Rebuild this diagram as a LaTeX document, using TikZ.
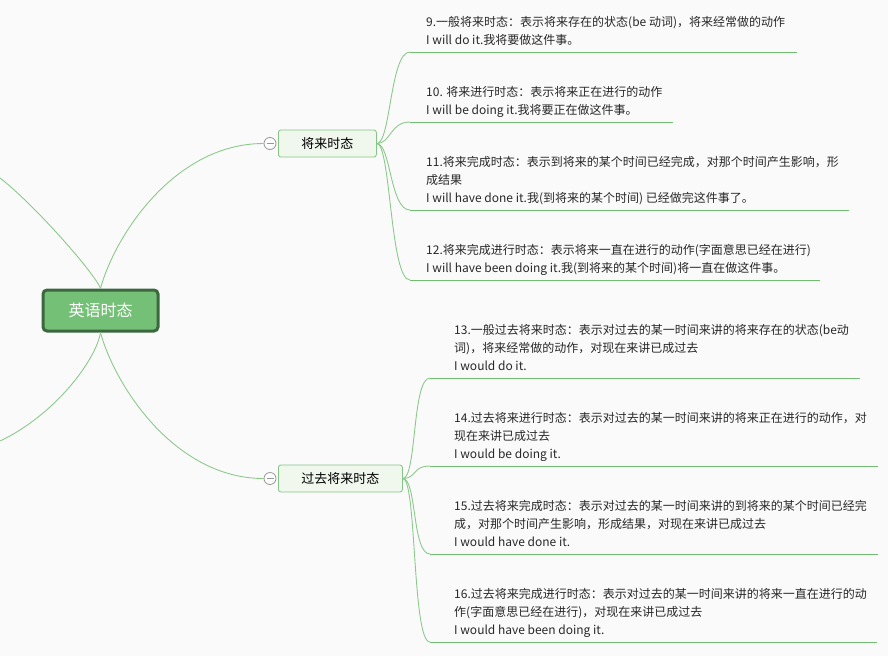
\documentclass[tikz,border=0pt]{standalone}
\usepackage{fontspec}
\setmainfont{Noto Sans CJK SC}
\usepackage{tikz}
\usetikzlibrary{calc}
\definecolor{bgcol}{RGB}{250,250,250}
\definecolor{rootfill}{RGB}{116,192,118}
\definecolor{rootline}{RGB}{60,104,64}
\definecolor{subfill}{RGB}{240,247,237}
\definecolor{subline}{RGB}{132,197,134}
\definecolor{branchcol}{RGB}{140,202,140}
\definecolor{ulinecol}{RGB}{112,190,112}
\definecolor{leaftext}{RGB}{40,40,40}
\definecolor{foldcol}{RGB}{150,150,150}

\begin{document}
\begin{tikzpicture}[x=1pt,y=-1pt,
  root/.style={draw=rootline,line width=3pt,fill=rootfill,rounded corners=4pt,
    text=white,font=\fontsize{16}{16}\selectfont,inner xsep=25.5pt,minimum height=41pt},
  topic/.style={draw=subline,line width=0.8pt,fill=subfill,rounded corners=2.5pt,
    text=black,font=\fontsize{13}{13}\selectfont,inner xsep=23pt,minimum height=27pt,anchor=west},
  fold/.style={circle,draw=foldcol,fill=white,line width=0.8pt,minimum size=12pt,inner sep=0pt,
    path picture={\draw[foldcol,line width=0.8pt] ([xshift=-3.5pt]path picture bounding box.center) -- ([xshift=3.5pt]path picture bounding box.center);}},
  leaf/.style={anchor=base west,align=left,inner sep=0pt,text=leaftext,font=\fontsize{12}{18}\selectfont},
  branch/.style={draw=branchcol,line width=0.9pt},
  uline/.style={draw=ulinecol,line width=1pt}]
\fill[bgcol] (0,0) rectangle (888,656);
\useasboundingbox (0,0) rectangle (888,656);

\coordinate (offup) at (0,178);
\coordinate (offdown) at (0,441);
\draw (100.5,310.5) node[root] (tense) {英语时态};
\draw[branch] (tense.north) .. controls (96,275) and (35,205) .. (offup);
\draw[branch] (tense.south) .. controls (96,360) and (55,415) .. (offdown);

\draw (278,143.5) node[topic] (future) {将来时态};
\draw (270,143.5) node[fold] (fold1) {};
\draw[branch] (tense.north) .. controls (115,235) and (175,143.5) .. (fold1.west);

\draw (278,478.5) node[topic] (pastfut) {过去将来时态};
\draw (270,478.5) node[fold] (fold2) {};
\draw[branch] (tense.south) .. controls (115,386) and (175,478.5) .. (fold2.west);

\coordinate (u9) at (410,52);
\coordinate (u10) at (410,122);
\coordinate (u11) at (410,210);
\coordinate (u12) at (410,280);
\draw ($(u9)+(16,-8)$) node[leaf] (t9) {9.一般将来时态：表示将来存在的状态(be 动词)，将来经常做的动作\\I will do it.我将要做这件事。};
\draw ($(u10)+(16,-8)$) node[leaf] (t10) {10. 将来进行时态：表示将来正在进行的动作\\I will be doing it.我将要正在做这件事。};
\draw ($(u11)+(16,-8)$) node[leaf] (t11) {11.将来完成时态：表示到将来的某个时间已经完成，对那个时间产生影响，形\\成结果\\I will have done it.我(到将来的某个时间) 已经做完这件事了。};
\draw ($(u12)+(16,-8)$) node[leaf] (t12) {12.将来完成进行时态：表示将来一直在进行的动作(字面意思已经在进行)\\I will have been doing it.我(到将来的某个时间)将一直在做这件事。};
\draw[uline] (u9) -- (797,52);
\draw[uline] (u10) -- (673,122);
\draw[uline] (u11) -- (849,210);
\draw[uline] (u12) -- (820,280);
\foreach \u in {u9,u10,u11,u12}
  \draw[branch] (future.east) .. controls +(14,0) and ($(\u)+(-20,0)$) .. (\u);

\coordinate (u13) at (430,378);
\coordinate (u14) at (430,466);
\coordinate (u15) at (430,554);
\coordinate (u16) at (430,642);
\draw ($(u13)+(24,-8)$) node[leaf] (t13) {13.一般过去将来时态：表示对过去的某一时间来讲的将来存在的状态(be动\\词)，将来经常做的动作，对现在来讲已成过去\\I would do it.};
\draw ($(u14)+(24,-8)$) node[leaf] (t14) {14.过去将来进行时态：表示对过去的某一时间来讲的将来正在进行的动作，对\\现在来讲已成过去\\I would be doing it.};
\draw ($(u15)+(24,-8)$) node[leaf] (t15) {15.过去将来完成时态：表示对过去的某一时间来讲的到将来的某个时间已经完\\成，对那个时间产生影响，形成结果，对现在来讲已成过去\\I would have done it.};
\draw ($(u16)+(24,-8)$) node[leaf] (t16) {16.过去将来完成进行时态：表示对过去的某一时间来讲的将来一直在进行的动\\作(字面意思已经在进行)，对现在来讲已成过去\\I would have been doing it.};
\draw[uline] (u13) -- (860,378);
\draw[uline] (u14) -- (878,466);
\draw[uline] (u15) -- (878,554);
\draw[uline] (u16) -- (877,642);
\foreach \u in {u13,u14,u15,u16}
  \draw[branch] (pastfut.east) .. controls +(14,0) and ($(\u)+(-18,0)$) .. (\u);
\end{tikzpicture}
\end{document}
